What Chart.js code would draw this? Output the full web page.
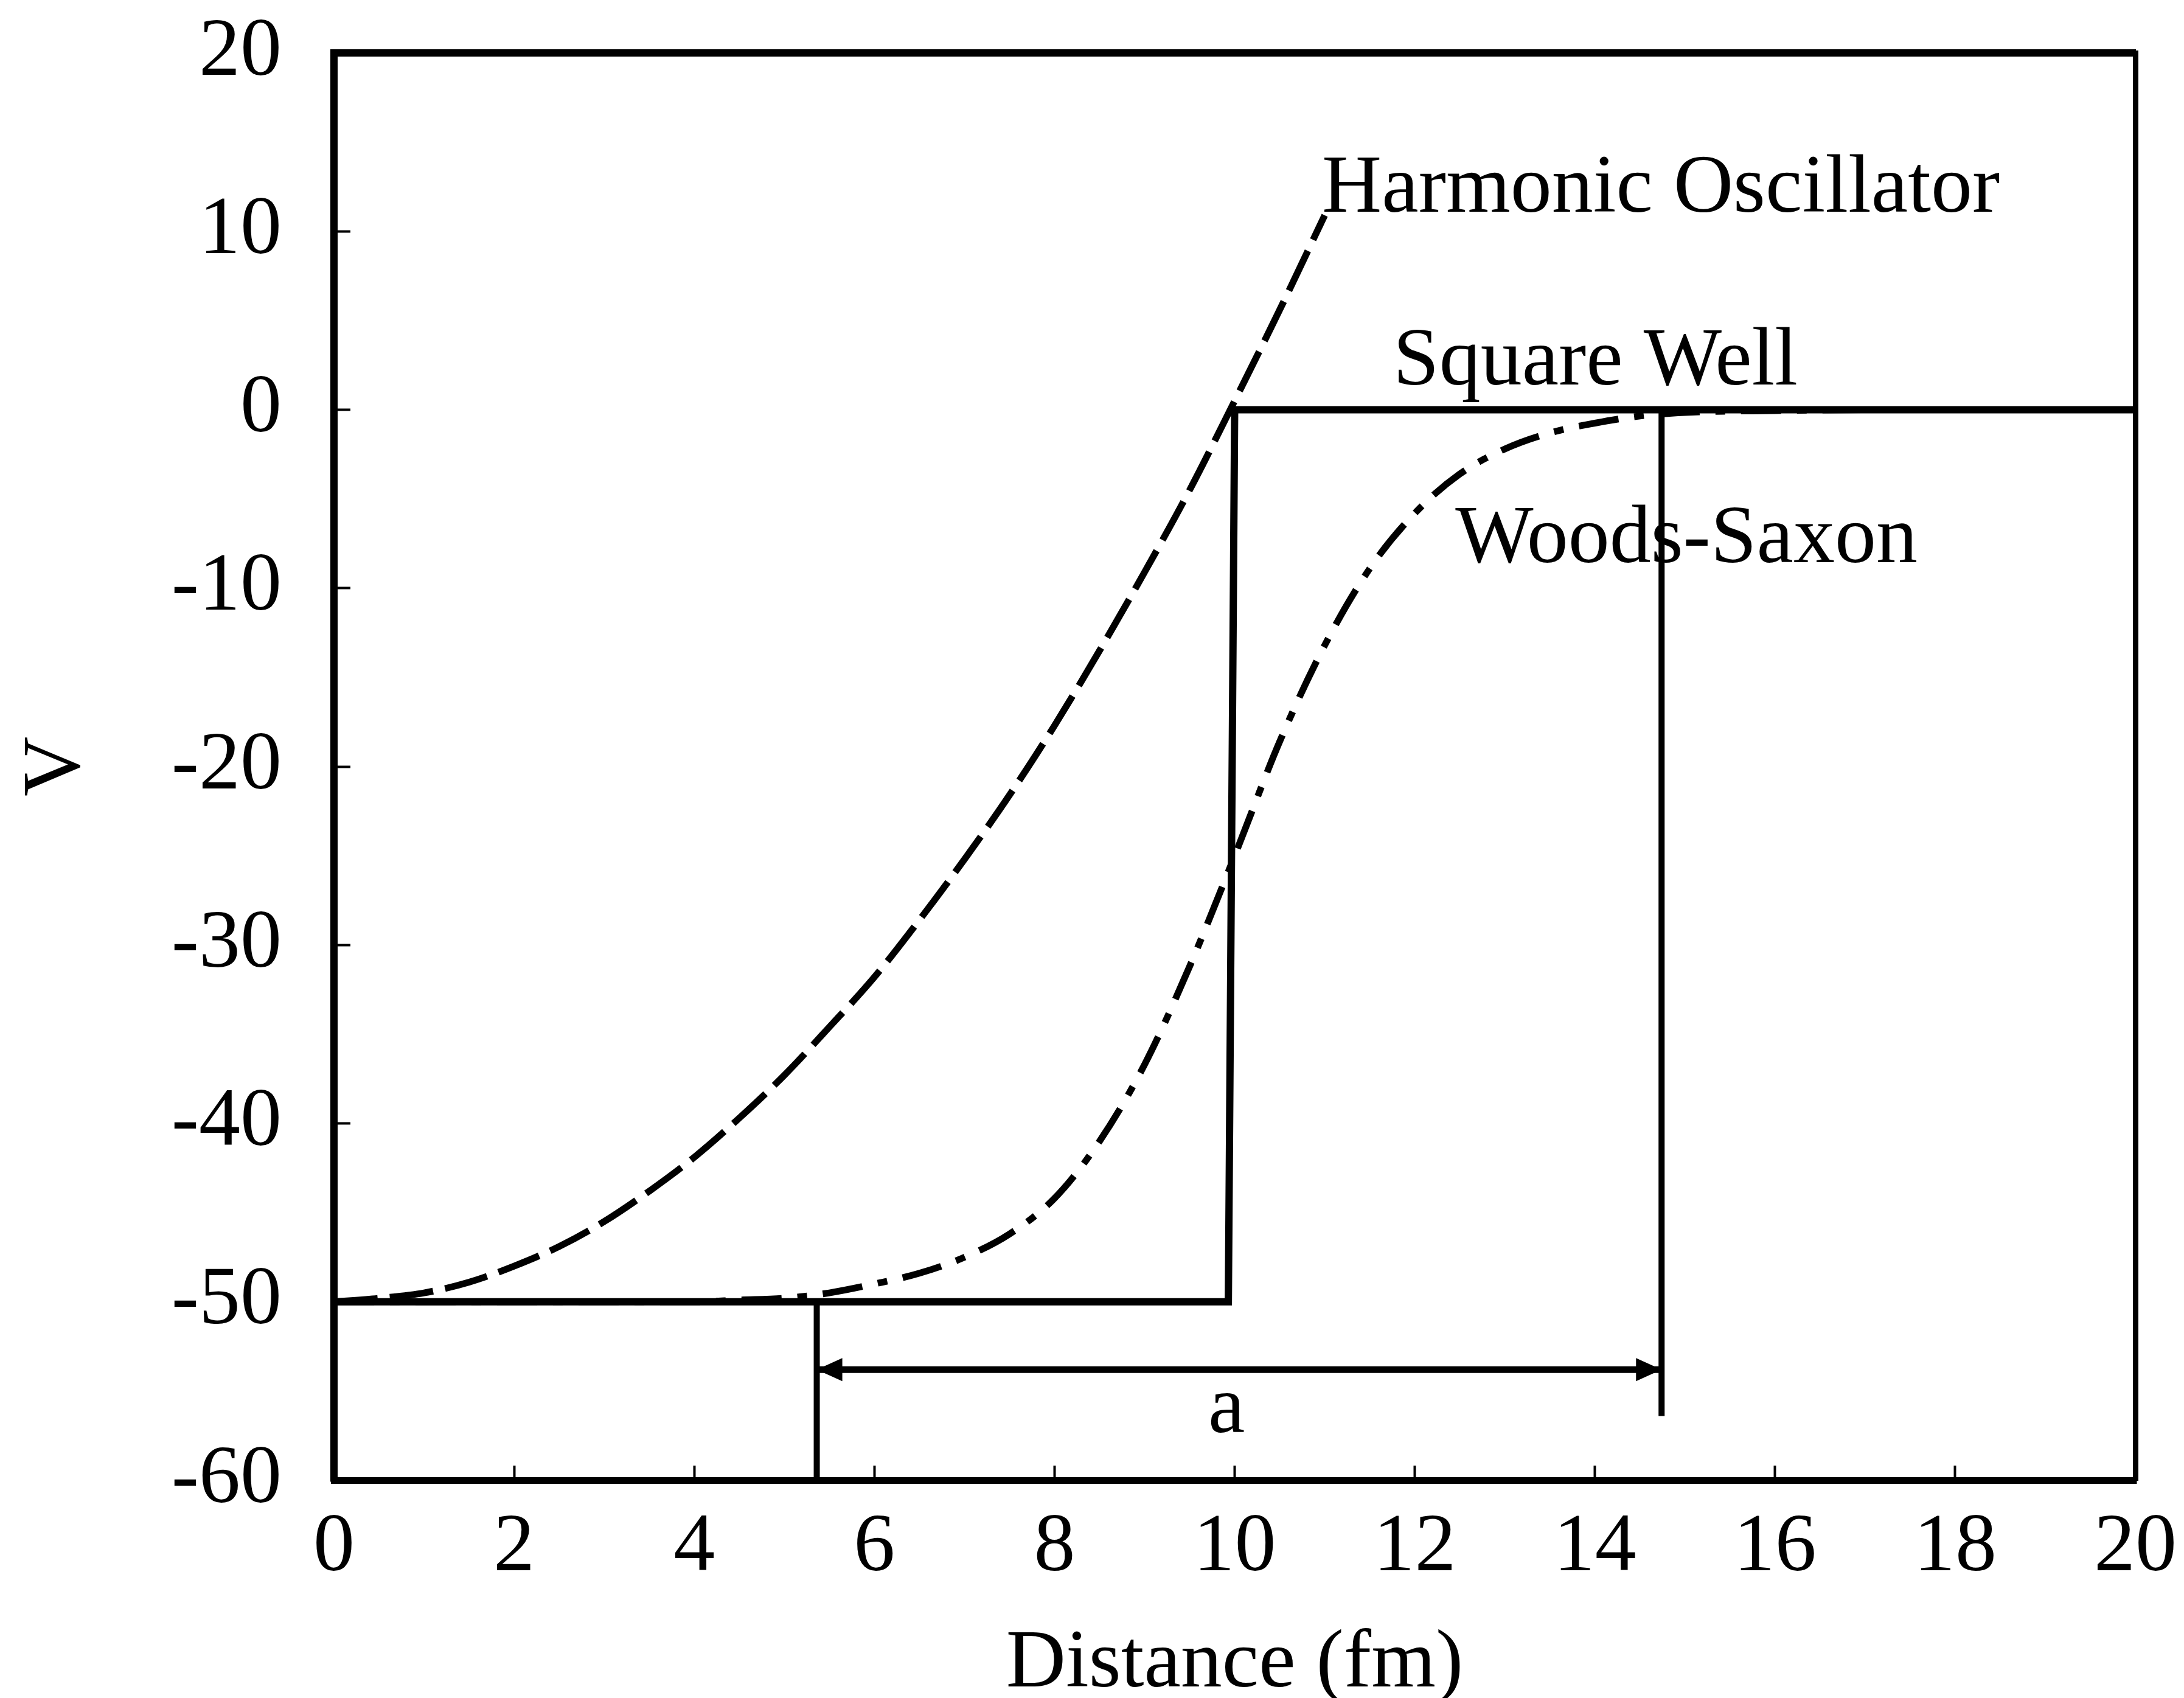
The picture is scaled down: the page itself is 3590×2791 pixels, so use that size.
<!DOCTYPE html>
<html>
<head>
<meta charset="utf-8">
<script src="https://cdn.jsdelivr.net/npm/chart.js@4.4.1/dist/chart.umd.min.js"></script>
<style>
  html, body { margin: 0; padding: 0; background: #fff; }
  #potentialChart { display: block; }
</style>
</head>
<body>
<canvas id="potentialChart" width="3590" height="2791"></canvas>
<script>
// Axis ticks
const xTickValues = [0, 2, 4, 6, 8, 10, 12, 14, 16, 18, 20];
const yTickValues = [20, 10, 0, -10, -20, -30, -40, -50, -60];

// Harmonic oscillator (dashed)
const hoDistance = [0, 0.5, 1, 1.5, 2, 2.5, 3, 3.5, 4, 4.5, 5, 5.5, 6, 6.5, 7, 7.5, 8, 8.5, 9, 9.5, 10, 10.5, 11];
const hoPotential = [-50, -49.8, -49.5, -48.9, -48.0, -46.9, -45.5, -43.8, -41.9, -39.7, -37.3, -34.6, -31.8, -28.6, -25.2, -21.6, -17.7, -13.5, -9.1, -4.5, 0.5, 5.6, 10.9];

// Woods-Saxon (dash-dot)
const wsDistance = [0, 1, 2, 3, 4, 4.5, 5, 5.5, 6, 6.5, 7, 7.5, 8, 8.5, 9, 9.5, 10, 10.5, 11, 11.5, 12, 12.5, 13, 13.5, 14, 14.5, 15, 16, 17, 20];
const wsPotential = [-50, -50, -50, -50, -50, -49.9, -49.8, -49.5, -49.0, -48.4, -47.5, -46.2, -44.2, -41.0, -36.7, -31.2, -25.0, -18.6, -13.2, -8.9, -5.8, -3.6, -2.2, -1.3, -0.75, -0.35, -0.15, -0.05, 0, 0];

// Square well (solid)
const swDistance = [0, 9.93, 10.0, 20];
const swPotential = [-50, -50, 0, 0];

// Radius marks and the "a" arrow
const leftMarkDistance = [5.36, 5.36];
const leftMarkPotential = [-50, -60];
const rightMarkDistance = [14.74, 14.74];
const rightMarkPotential = [0, -56.4];
const arrowDistance = [5.36, 14.74];
const arrowPotential = [-53.8, -53.8];

// Curve labels
const labelTexts = ['Harmonic Oscillator', 'Square Well', 'Woods-Saxon', 'a'];
const labelSpots = [
    { x: 10.97, y: 11.1, align: 'left' },
    { x: 11.76, y: 1.4, align: 'left' },
    { x: 12.45, y: -8.55, align: 'left' },
    { x: 9.91, y: -57.3, align: 'center' }
];

const SERIF = '"Liberation Serif", "Times New Roman", serif';
const FONT_SIZE = 136;

function toPoints(xs, ys) {
    return xs.map((x, i) => ({ x: x, y: ys[i] }));
}

function lineSet(xs, ys, width, dash, smooth) {
    return {
        data: toPoints(xs, ys),
        borderColor: '#000',
        borderWidth: width,
        borderDash: dash,
        borderCapStyle: 'butt',
        pointRadius: 0,
        fill: false,
        tension: 0,
        cubicInterpolationMode: smooth ? 'monotone' : 'default',
        clip: false
    };
}

// keep tick label overflow from pushing the plot area around
function noScalePadding(scale) {
    scale.paddingTop = 0;
    scale.paddingBottom = 0;
    scale.paddingLeft = 0;
    scale.paddingRight = 0;
}

const ARROW_INDEX = 5;

// Filled arrow heads at both ends of the "a" line
const arrowHeads = {
    id: 'arrowHeads',
    afterDatasetsDraw(chart) {
        const meta = chart.getDatasetMeta(ARROW_INDEX);
        const ctx = chart.ctx;
        const p0 = meta.data[0];
        const p1 = meta.data[1];
        ctx.save();
        ctx.fillStyle = '#000';
        drawHead(ctx, p0.x, p0.y, -1);
        drawHead(ctx, p1.x, p1.y, 1);
        ctx.restore();
    }
};

function drawHead(ctx, x, y, dir) {
    ctx.beginPath();
    ctx.moveTo(x, y);
    ctx.lineTo(x - dir * 42, y - 19);
    ctx.lineTo(x - dir * 42, y + 19);
    ctx.closePath();
    ctx.fill();
}

// Text labels placed in data coordinates
const curveLabels = {
    id: 'curveLabels',
    afterDatasetsDraw(chart) {
        const ctx = chart.ctx;
        const xs = chart.scales.x;
        const ys = chart.scales.y;
        ctx.save();
        ctx.fillStyle = '#000';
        ctx.font = FONT_SIZE + 'px ' + SERIF;
        ctx.textBaseline = 'alphabetic';
        labelTexts.forEach((text, i) => {
            const spot = labelSpots[i];
            ctx.textAlign = spot.align;
            ctx.fillText(text, xs.getPixelForValue(spot.x), ys.getPixelForValue(spot.y));
        });
        ctx.restore();
    }
};

const ctx = document.getElementById('potentialChart').getContext('2d');

new Chart(ctx, {
    type: 'line',
    data: {
        datasets: [
            lineSet(swDistance, swPotential, 12, [], false),
            lineSet(hoDistance, hoPotential, 11, [72, 20], true),
            lineSet(wsDistance, wsPotential, 11, [66, 26, 16, 26], true),
            lineSet(leftMarkDistance, leftMarkPotential, 10, [], false),
            lineSet(rightMarkDistance, rightMarkPotential, 10, [], false),
            lineSet(arrowDistance, arrowPotential, 11, [], false)
        ]
    },
    options: {
        responsive: false,
        devicePixelRatio: 1,
        animation: false,
        events: [],
        layout: {
            autoPadding: false,
            padding: { top: 87, right: 80, bottom: 0, left: 0 }
        },
        plugins: {
            legend: { display: false },
            tooltip: { enabled: false }
        },
        scales: {
            x: {
                type: 'linear',
                position: 'bottom',
                min: 0,
                max: 20,
                afterBuildTicks: (scale) => {
                    scale.ticks = xTickValues.map(v => ({ value: v }));
                },
                afterFit: (scale) => {
                    scale.height = 358;
                    noScalePadding(scale);
                },
                ticks: {
                    color: '#000',
                    font: { family: SERIF, size: FONT_SIZE, lineHeight: 1 },
                    padding: 68,
                    maxRotation: 0,
                    autoSkip: false,
                    callback: (v) => String(v)
                },
                grid: {
                    display: true,
                    drawOnChartArea: false,
                    drawTicks: true,
                    tickLength: -24,
                    tickWidth: 4,
                    tickColor: '#000'
                },
                border: { display: true, color: '#000', width: 11 },
                title: {
                    display: true,
                    text: 'Distance (fm)',
                    color: '#000',
                    font: { family: SERIF, size: FONT_SIZE, lineHeight: 1 },
                    padding: { top: 0, bottom: -13 }
                }
            },
            y: {
                type: 'linear',
                position: 'left',
                min: -60,
                max: 20,
                afterBuildTicks: (scale) => {
                    scale.ticks = yTickValues.map(v => ({ value: v }));
                },
                afterFit: (scale) => {
                    scale.width = 549;
                    noScalePadding(scale);
                },
                ticks: {
                    color: '#000',
                    font: { family: SERIF, size: FONT_SIZE, lineHeight: 1 },
                    padding: 113,
                    autoSkip: false,
                    callback: (v) => String(v)
                },
                grid: {
                    display: true,
                    drawOnChartArea: false,
                    drawTicks: true,
                    tickLength: -27,
                    tickWidth: 4,
                    tickColor: '#000'
                },
                border: { display: true, color: '#000', width: 12 },
                title: {
                    display: true,
                    text: 'V',
                    color: '#000',
                    font: { family: SERIF, size: FONT_SIZE },
                    padding: { top: 13, bottom: 0 }
                }
            },
            xTop: {
                type: 'linear',
                position: 'top',
                min: 0,
                max: 20,
                afterFit: (scale) => {
                    scale.height = 0;
                    noScalePadding(scale);
                },
                ticks: { display: false },
                grid: { display: false, drawOnChartArea: false, drawTicks: false },
                border: { display: true, color: '#000', width: 12 }
            },
            yRight: {
                type: 'linear',
                position: 'right',
                min: -60,
                max: 20,
                afterFit: (scale) => {
                    scale.width = 0;
                    noScalePadding(scale);
                },
                ticks: { display: false },
                grid: { display: false, drawOnChartArea: false, drawTicks: false },
                border: { display: true, color: '#000', width: 9 }
            }
        }
    },
    plugins: [arrowHeads, curveLabels]
});
</script>
</body>
</html>
